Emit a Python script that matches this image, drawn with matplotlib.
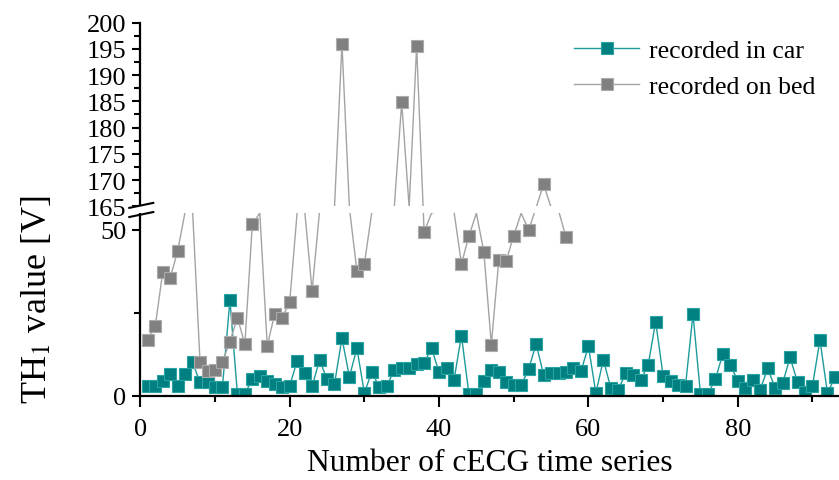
import numpy as np
import matplotlib
matplotlib.use("Agg")
import matplotlib.pyplot as plt
from matplotlib.lines import Line2D
from matplotlib.patches import Rectangle

plt.rcParams['font.family'] = ['Liberation Serif', 'DejaVu Serif']
plt.rcParams['mathtext.fontset'] = 'stix'

# ---- data ----
car_x = list(range(1, 94))
car_y = [3.1, 3.1, 4.6, 6.6, 3.1, 6.6, 10.1, 4.1, 4.1, 2.8,
         2.8, 28.9, 0.7, 0.7, 5.1, 6.1, 4.6, 3.6, 2.6, 3.1,
         10.5, 6.8, 2.9, 10.8, 5.1, 3.6, 17.4, 5.8, 14.4, 0.9,
         7.3, 2.6, 2.9, 7.9, 8.3, 8.3, 9.6, 9.9, 14.4, 7.1,
         8.3, 4.8, 18.2, 0.6, 0.6, 4.4, 7.8, 7.1, 4.3, 3.3,
         3.3, 8.1, 15.7, 6.4, 6.9, 6.9, 7.1, 8.3, 7.4, 15.0,
         0.9, 10.9, 2.4, 1.9, 6.9, 6.4, 4.8, 9.3, 22.4, 6.1,
         4.6, 3.3, 3.1, 24.7, 0.6, 0.6, 5.1, 12.7, 9.3, 4.6,
         2.4, 4.8, 1.9, 8.3, 2.4, 3.8, 11.7, 4.1, 1.1, 3.1,
         16.9, 0.9, 5.6]

bed_x = list(range(1, 58))
bed_y = [17.0, 21.0, 37.3, 35.6, 43.6, 80, 95, 10.2, 7.5, 7.8,
         10.3, 16.4, 23.6, 15.6, 51.8, 60, 15.1, 24.8, 23.6, 28.2,
         70, 110, 31.7, 90, 120, 150, 196.0, 140, 37.7, 39.8,
         75, 100, 120, 150, 184.8, 150, 195.5, 49.4, 60, 90,
         110, 85, 39.8, 48.2, 57, 43.4, 15.5, 41.0, 40.8, 48.3,
         58, 50.0, 150, 169.2, 150, 100, 47.8]

lower_ticks = [0, 50]
lower_minor = [25]
upper_ticks = [165, 170, 175, 180, 185, 190, 195, 200]
upper_minor = [167.5, 172.5, 177.5, 182.5, 187.5, 192.5, 197.5]
x_ticks = [0, 20, 40, 60, 80]
x_minor = [10, 30, 50, 70, 90]

# ---- broken-axis scale (lower 0-55, collapsed gap, upper 165-200) ----
L, U = 55.0, 165.0
a, b = 3.32, 5.257
gap_px = 6.9
gs = gap_px / (U - L)


def fwd(v):
    v = np.asarray(v, dtype=float)
    return np.where(v <= L, v * a,
                    np.where(v < U, L * a + (v - L) * gs,
                             L * a + gap_px + (v - U) * b))


def inv(p):
    p = np.asarray(p, dtype=float)
    p1 = L * a
    p2 = L * a + gap_px
    return np.where(p <= p1, p / a,
                    np.where(p < p2, L + (p - p1) / gs,
                             U + (p - p2) / b))


W, H = 839, 481
fig = plt.figure(figsize=(W / 100, H / 100), dpi=100)
x0_px, y0_px, ytop_px = 140.3, 397.0, 23.5
ax = fig.add_axes([x0_px / W, (H - y0_px) / H, (W - x0_px) / W, (y0_px - ytop_px) / H])
ax.set_yscale('function', functions=(fwd, inv))
ax.set_xlim(0, 93.55)
ax.set_ylim(0, 200)

teal_face = '#008080'
teal_edge = '#2aa3a3'
teal_line = '#1e9a9a'
gray_face = '#808080'
gray_edge = '#ababab'
gray_line = '#a3a3a3'
ms = 8.6

car_x_a = np.array(car_x)
car_y_a = np.array(car_y)
bed_x_a = np.array(bed_x)
bed_y_a = np.array(bed_y)
bed_vis = (bed_y_a <= L) | (bed_y_a >= U)

ax.plot(car_x_a, car_y_a, color=teal_line, lw=1.0, zorder=2)
ax.plot(car_x_a, car_y_a, ls='none', marker='s', ms=ms, mfc=teal_face, mec=teal_edge, mew=0.8, zorder=2.1)
ax.plot(bed_x_a, bed_y_a, color=gray_line, lw=1.0, zorder=2.2)
ax.plot(bed_x_a[bed_vis], bed_y_a[bed_vis], ls='none', marker='s', ms=ms, mfc=gray_face, mec=gray_edge,
        mew=0.8, zorder=2.3)

# white band hiding the gap
trans = matplotlib.transforms.blended_transform_factory(ax.transAxes, ax.transData)
ax.add_patch(Rectangle((-0.02, L), 1.03, U - L, transform=trans, facecolor='white', edgecolor='none',
                       zorder=3, clip_on=False))

# break marks
ax_w = W - x0_px
ax_h = y0_px - ytop_px
yb = fwd(L) / ax_h
yt = fwd(U) / ax_h
for yy in (yb - 0.003, yt + 0.003):
    ax.plot([-11 / ax_w, 13 / ax_w], [yy - 2.5 / ax_h, yy + 2.5 / ax_h], transform=ax.transAxes,
            color='black', lw=1.5, clip_on=False, zorder=4)

for s in ['top', 'right']:
    ax.spines[s].set_visible(False)
for s in ['left', 'bottom']:
    ax.spines[s].set_linewidth(1.6)

ax.set_xticks(x_ticks)
ax.set_xticks(x_minor, minor=True)
ax.set_yticks(lower_ticks + upper_ticks)
ax.set_yticks(lower_minor + upper_minor, minor=True)
ax.set_yticklabels([str(t) for t in lower_ticks + upper_ticks])
ax.tick_params(axis='both', which='major', direction='out', length=6, width=1.5, labelsize=19, pad=4)
ax.tick_params(axis='both', which='minor', direction='out', length=4, width=1.5)
ax.tick_params(axis='x', which='major', length=8, pad=7.5)

ax.set_xlabel('Number of cECG time series', fontsize=22.7, labelpad=6)
fig.text(37 / W, 1 - 300 / H, 'TH$_1$ value [V]', rotation=90, ha='center', va='center', fontsize=26)

handles = [Line2D([], [], color=teal_line, lw=1.0, marker='s', ms=ms, mfc=teal_face, mec=teal_edge, mew=0.8),
           Line2D([], [], color=gray_line, lw=1.0, marker='s', ms=ms, mfc=gray_face, mec=gray_edge, mew=0.8)]
leg = fig.legend(handles, ['recorded in car', 'recorded on bed'], loc='upper left',
                 bbox_to_anchor=(574 / W, 1 - 40 / H), frameon=False, fontsize=18.5,
                 handlelength=2.53, handletextpad=0.39, labelspacing=0.52, borderpad=0, borderaxespad=0)

fig.savefig('out.png', dpi=100)
